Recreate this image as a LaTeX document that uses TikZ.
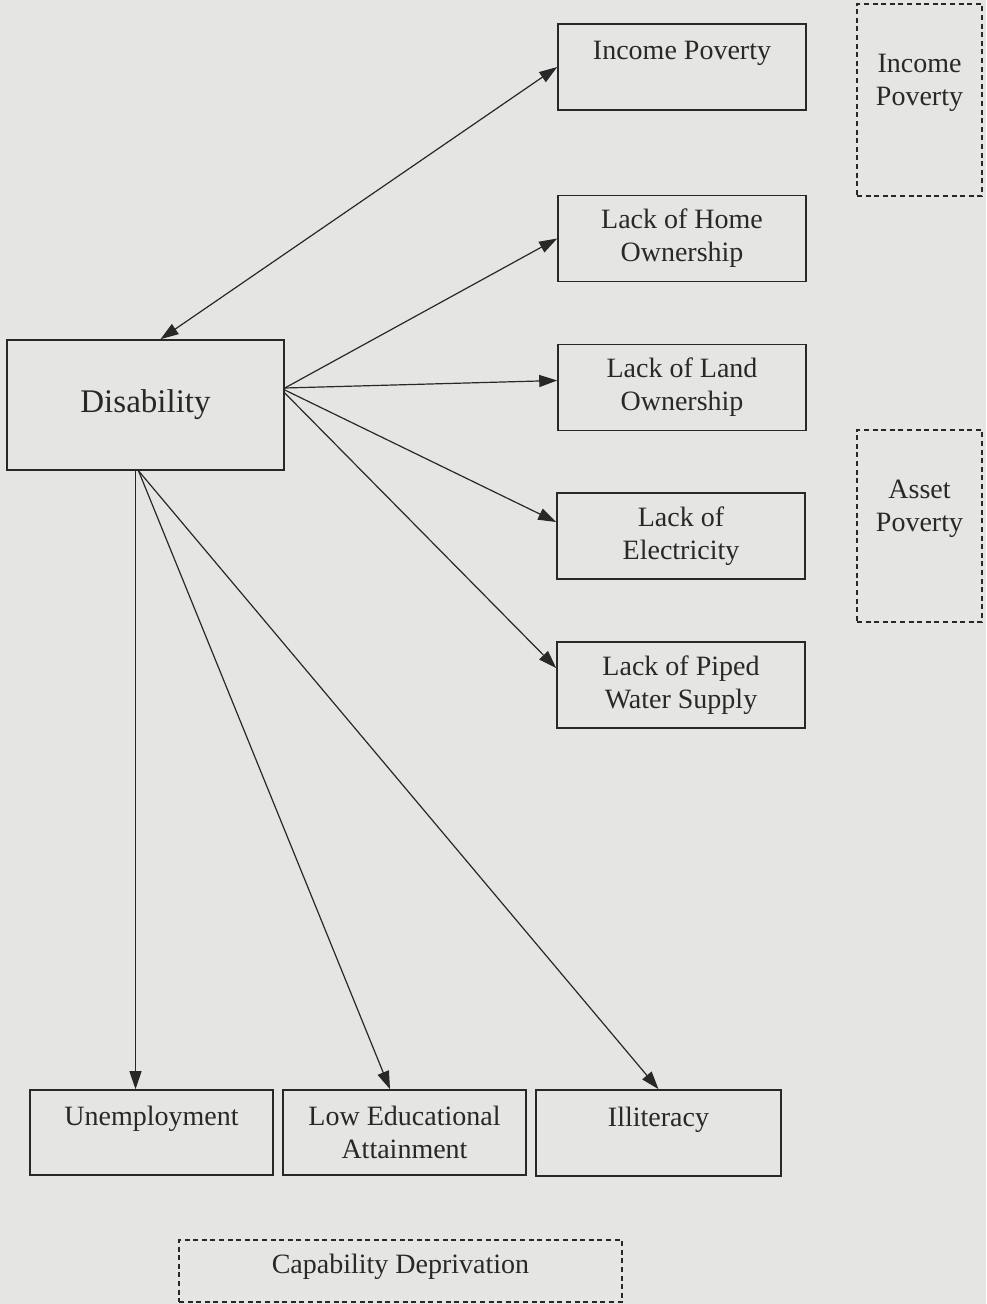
\documentclass[tikz,border=0pt]{standalone}
\usepackage{fontspec}
\setmainfont{Liberation Serif}
\usetikzlibrary{arrows.meta}
\definecolor{paper}{RGB}{229,229,227}
\definecolor{ink}{RGB}{40,40,40}

\begin{document}
\begin{tikzpicture}[x=0.5pt,y=-0.5pt,
  >={Triangle[length=9pt,width=6pt]},
  box/.style={draw=ink, line width=0.8pt, align=center, text=ink,
    font=\fontsize{14}{16.5}\selectfont, minimum width=124pt, minimum height=43pt, inner sep=0pt},
  group/.style={draw=ink, line width=0.7pt, dash pattern=on 2.5pt off 1.8pt, minimum width=62.5pt, minimum height=96pt, inner sep=0pt},
  lbl/.style={align=center, text=ink, font=\fontsize{14}{16.5}\selectfont, inner sep=0pt}]
\fill[paper] (0,0) rectangle (986,1304);
\useasboundingbox (0,0) rectangle (986,1304);
% right hand column
\node[box] (inc) at (682,67) {Income Poverty\\ \mbox{}};
\node[box] (home) at (682,238.5) {Lack of Home\\Ownership};
\node[box] (land) at (682,387.5) {Lack of Land\\Ownership};
\node[box] (elec) at (681,536) {Lack of\\Electricity};
\node[box] (water) at (681,685) {Lack of Piped\\Water Supply};
% centre
\node[box, minimum width=138.5pt, minimum height=65pt, font=\fontsize{16.5}{19}\selectfont] (dis) at (145.5,405) {Disability};
% bottom row
\node[box, minimum width=121.5pt, minimum height=42.5pt] (unemp) at (151.5,1132.5) {Unemployment\\ \mbox{}};
\node[box, minimum width=121.5pt, minimum height=42.5pt] (edu) at (404.5,1132.5) {Low Educational\\Attainment};
\node[box, minimum width=122.5pt, minimum height=43pt] (illit) at (658.5,1133) {Illiteracy\\ \mbox{}};
% dashed groups
\node[group] (incgrp) at (919.5,100) {};
\node[lbl] (incgrptxt) at (919.5,83) {Income\\Poverty};
\node[group] (assetgrp) at (919.5,526) {};
\node[lbl] (assetgrptxt) at (919.5,509) {Asset\\Poverty};
\node[group, minimum width=221.5pt, minimum height=31pt] (capgrp) at (400.5,1271) {};
\node[lbl] (capgrptxt) at (400.5,1267) {Capability Deprivation};
% arrows
\draw[ink, line width=0.6pt, <->] ([xshift=7.5pt]dis.north) -- (inc.west);
\draw[ink, line width=0.6pt, ->] ([yshift=8.5pt]dis.east) -- (home.west);
\draw[ink, line width=0.6pt, ->] ([yshift=8.5pt]dis.east) -- ([yshift=3.5pt]land.west);
\draw[ink, line width=0.6pt, ->] ([yshift=7.5pt]dis.east) -- ([yshift=7pt]elec.west);
\draw[ink, line width=0.6pt, ->] ([yshift=6pt]dis.east) -- ([yshift=8.5pt]water.west);
\draw[ink, line width=0.6pt, ->] ([xshift=-5pt]dis.south) -- ([xshift=-8pt]unemp.north);
\draw[ink, line width=0.6pt, ->] ([xshift=-3.5pt]dis.south) -- ([xshift=-7.25pt]edu.north);
\draw[ink, line width=0.6pt, ->] ([xshift=-3.5pt]dis.south) -- (illit.north);
\end{tikzpicture}
\end{document}
